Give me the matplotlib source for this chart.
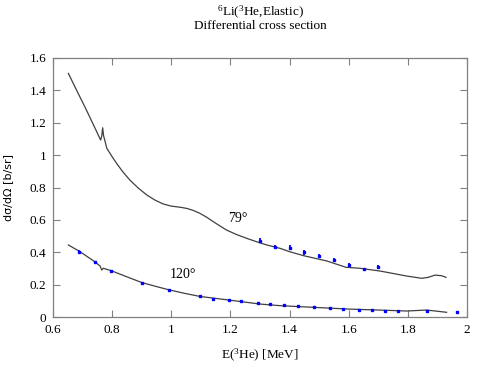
import matplotlib.pyplot as plt
from matplotlib.ticker import FuncFormatter

# 79 deg calculated curve
e79 = [0.652, 0.68, 0.71, 0.74, 0.761, 0.765, 0.768, 0.771, 0.775, 0.782, 0.80, 0.815,
       0.837, 0.860, 0.888, 0.917, 0.945, 0.973, 1.00, 1.03, 1.052, 1.075, 1.097, 1.12,
       1.142, 1.165, 1.187, 1.22, 1.255, 1.29, 1.323, 1.368, 1.401, 1.447, 1.526,
       1.591, 1.638, 1.706, 1.796, 1.847, 1.869, 1.892, 1.914, 1.929]
s79 = [1.505, 1.40, 1.29, 1.175, 1.093, 1.12, 1.169, 1.12, 1.093, 1.042, 0.99, 0.949,
       0.895, 0.846, 0.797, 0.754, 0.722, 0.698, 0.685, 0.678, 0.671, 0.658, 0.640, 0.616,
       0.589, 0.562, 0.537, 0.510, 0.486, 0.464, 0.445, 0.424, 0.403, 0.379, 0.346,
       0.307, 0.301, 0.284, 0.253, 0.239, 0.245, 0.259, 0.255, 0.245]

# 120 deg calculated curve
e120 = [0.652, 0.69, 0.741, 0.759, 0.765, 0.770, 0.797, 0.850, 0.900, 0.950, 0.992,
        1.045, 1.097, 1.194, 1.30, 1.368, 1.401, 1.50, 1.599, 1.70, 1.796, 1.864, 1.931]
s120 = [0.445, 0.405, 0.342, 0.315, 0.290, 0.301, 0.286, 0.248, 0.213, 0.188, 0.168,
        0.146, 0.127, 0.105, 0.080, 0.070, 0.067, 0.058, 0.049, 0.043, 0.037, 0.043, 0.029]

# measured points
x79 = [1.30, 1.35, 1.40, 1.45, 1.50, 1.55, 1.60, 1.65, 1.70]
y79 = [0.471, 0.434, 0.428, 0.400, 0.377, 0.354, 0.319, 0.295, 0.309]
err79 = [0.015, 0.012, 0.015, 0.015, 0.012, 0.012, 0.012, 0.01, 0.015]

x120 = [0.688, 0.741, 0.797, 0.900, 0.992, 1.098, 1.142, 1.194, 1.237, 1.292, 1.333,
        1.380, 1.428, 1.483, 1.536, 1.582, 1.634, 1.678, 1.723, 1.767, 1.865, 1.966]
y120 = [0.403, 0.338, 0.286, 0.208, 0.165, 0.130, 0.113, 0.107, 0.097, 0.085, 0.078,
        0.072, 0.068, 0.064, 0.054, 0.049, 0.043, 0.043, 0.039, 0.039, 0.037, 0.031]
err120 = [0.01, 0.005, 0.005, 0.006, 0.005, 0.004, 0.004, 0.004, 0.003, 0.003, 0.003,
          0.003, 0.003, 0.003, 0.003, 0.003, 0.003, 0.003, 0.003, 0.003, 0.003, 0.003]

serif = 'Liberation Serif'
axcol = '#808080'
plt.rcParams['mathtext.fontset'] = 'custom'
plt.rcParams['mathtext.rm'] = serif
plt.rcParams['mathtext.it'] = serif + ':italic'

fig = plt.figure(figsize=(4.85, 3.77), dpi=100)
ax = fig.add_axes([53 / 485, 1 - 317 / 377, (467 - 53) / 485, (317 - 58) / 377])

ax.plot(e79, s79, color='#404040', lw=0.9)
ax.plot(e120, s120, color='#404040', lw=0.9)
ax.errorbar(x79, y79, yerr=err79, fmt='s', ms=1.8, color='blue', ecolor='blue',
            elinewidth=1.3, capsize=0)
ax.errorbar(x120, y120, yerr=err120, fmt='s', ms=1.8, color='blue', ecolor='blue',
            elinewidth=1.3, capsize=0)

ax.text(1.225, 0.61, '79°', fontsize=10, family=serif, ha='center', va='center')
ax.text(1.04, 0.26, '120°', fontsize=10, family=serif, ha='center', va='center')

ax.set_xlim(0.6, 2.0)
ax.set_ylim(0, 1.6)
ax.set_xticks([0.6, 0.8, 1.0, 1.2, 1.4, 1.6, 1.8, 2.0])
ax.set_yticks([0, 0.2, 0.4, 0.6, 0.8, 1.0, 1.2, 1.4, 1.6])
fmt = FuncFormatter(lambda v, p: '%g' % round(v, 2))
ax.xaxis.set_major_formatter(fmt)
ax.yaxis.set_major_formatter(fmt)
ax.tick_params(direction='in', top=True, right=True, length=5, width=0.8,
               color=axcol, labelsize=9.5, pad=5)
for lab in ax.get_xticklabels() + ax.get_yticklabels():
    lab.set_family(serif)
for sp in ax.spines.values():
    sp.set_color(axcol)
    sp.set_linewidth(0.9)

ax.set_xlabel('E($^3$He) [MeV]', family=serif, fontsize=9.5, labelpad=8)
ax.set_ylabel('dσ/dΩ [b/sr]', family='DejaVu Sans', fontsize=8, labelpad=12)

fig.text(260 / 485, 1 - 12 / 377, '$^6$Li($^3$He,Elastic)', family=serif, fontsize=9.5,
         ha='center', va='center')
fig.text(260 / 485, 1 - 26 / 377, 'Differential cross section', family=serif, fontsize=9.5,
         ha='center', va='center')

fig.savefig('out.png', dpi=100)
